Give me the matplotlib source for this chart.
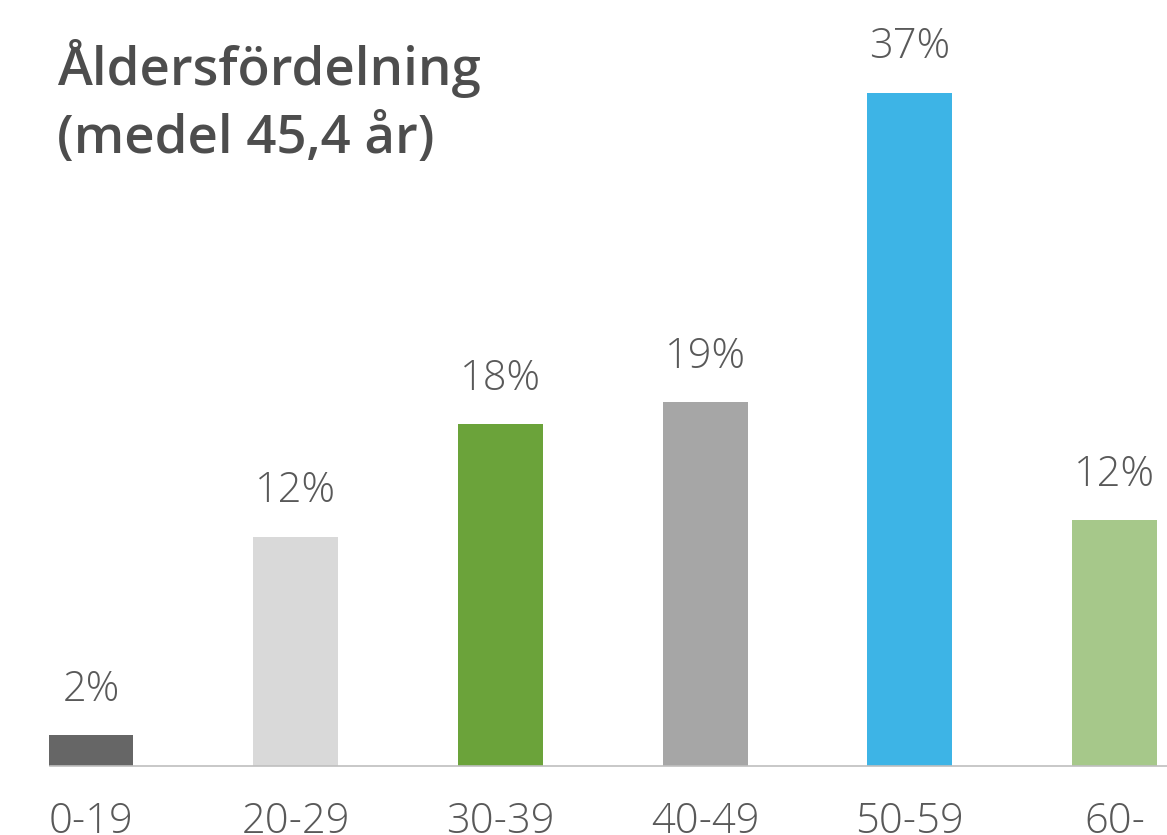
import matplotlib
matplotlib.use("Agg")
import matplotlib.pyplot as plt

# age groups and share of respondents (bar heights)
groups = ["0-19", "20-29", "30-39", "40-49", "50-59", "60-"]
shares = [1.7, 12.6, 18.8, 20.0, 37.0, 13.5]
share_labels = ["2%", "12%", "18%", "19%", "37%", "12%"]
bar_colors = ["#666666", "#d9d9d9", "#6ba33a", "#a6a6a6", "#3db4e6", "#a6c88a"]

plt.rcParams["font.family"] = ["Open Sans", "DejaVu Sans"]

fig = plt.figure(figsize=(11.67, 8.35), dpi=100)
ax = fig.add_axes([0, 0.0826, 1, 0.9174])

x = list(range(len(groups)))
ax.bar(x, shares, width=0.415, color=bar_colors, zorder=2)

for xi, v, lab in zip(x, shares, share_labels):
    ax.annotate(lab, (xi, v), xytext=(0, 17.5), textcoords="offset points",
                ha="center", va="bottom", fontsize=30, fontweight="light",
                color="#595959")

# pixel 0 -> first centre at ~91px, spacing ~204.7px
ax.set_xlim(-91 / 204.7, (1167 - 91) / 204.7)
ax.set_ylim(0, 42.1)

ax.set_xticks(x)
ax.set_xticklabels(groups, fontsize=30, fontweight="light", color="#595959")
ax.tick_params(axis="x", length=0, pad=25)
ax.set_yticks([])

for s in ["top", "left", "right"]:
    ax.spines[s].set_visible(False)
ax.spines["bottom"].set_color("#bfbfbf")
ax.spines["bottom"].set_linewidth(1.2)
ax.spines["bottom"].set_bounds(-0.2, 5.3)

fig.text(0.049, (835 - 153) / 835, "Åldersfördelning\n(medel 45,4 år)", fontsize=38,
         fontweight="semibold", color="#4d4d4d", ha="left", va="baseline",
         linespacing=1.38)

fig.savefig("out.png", dpi=100)
